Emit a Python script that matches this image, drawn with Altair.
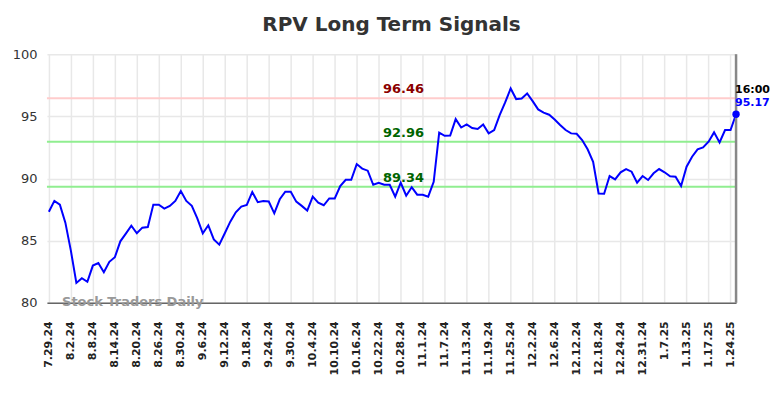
import altair as alt
import pandas as pd

# ---- data ----
values = [
    87.33, 88.20, 87.90, 86.45, 84.20, 81.60, 81.98, 81.70, 83.00, 83.20,
    82.47, 83.30, 83.67, 84.95, 85.57, 86.20, 85.60, 86.05, 86.10, 87.90,
    87.90, 87.58, 87.80, 88.20, 89.00, 88.20, 87.80, 86.80, 85.60, 86.24,
    85.10, 84.68, 85.60, 86.53, 87.28, 87.74, 87.87, 88.92, 88.10, 88.20,
    88.15, 87.20, 88.33, 88.94, 88.94, 88.14, 87.80, 87.42, 88.54, 88.06,
    87.85, 88.40, 88.40, 89.40, 89.90, 89.90, 91.16, 90.80, 90.63, 89.50,
    89.66, 89.50, 89.50, 88.54, 89.66, 88.62, 89.30, 88.70, 88.70, 88.54,
    89.74, 93.70, 93.44, 93.45, 94.78, 94.10, 94.35, 94.06, 93.98, 94.35,
    93.63, 93.90, 95.10, 96.12, 97.24, 96.39, 96.44, 96.84, 96.22, 95.56,
    95.30, 95.13, 94.75, 94.30, 93.90, 93.63, 93.60, 93.10, 92.35, 91.35,
    88.80, 88.78, 90.20, 89.93, 90.50, 90.76, 90.55, 89.66, 90.20, 89.88,
    90.42, 90.76, 90.50, 90.18, 90.15, 89.40, 90.95, 91.75, 92.34, 92.50,
    92.96, 93.71, 92.90, 93.90, 93.90, 95.17,
]

tick_labels = [
    "7.29.24", "8.2.24", "8.8.24", "8.14.24", "8.20.24", "8.26.24", "8.30.24",
    "9.6.24", "9.12.24", "9.18.24", "9.24.24", "9.30.24", "10.4.24", "10.10.24",
    "10.16.24", "10.22.24", "10.28.24", "11.1.24", "11.7.24", "11.13.24",
    "11.19.24", "11.25.24", "12.2.24", "12.6.24", "12.12.24", "12.18.24",
    "12.24.24", "12.31.24", "1.7.25", "1.13.25", "1.17.25", "1.24.25",
]
tick_step = 4

levels = [96.46, 92.96, 89.34]
level_labels = ["96.46", "92.96", "89.34"]
level_line_colors = ["#ffcccc", "#90ee90", "#90ee90"]
level_text_colors = ["#8b0000", "#006400", "#006400"]
level_label_index = 64.5

last_time = "16:00"
last_label = "95.17"
watermark = "Stock Traders Daily"
watermark_index = 2.4
y_ticks = [80, 85, 90, 95, 100]

# ---- build ----
n = len(values)
df = pd.DataFrame({"i": list(range(n)), "v": values})
last_df = pd.DataFrame({"i": [n - 1], "v": [values[-1]], "t": [last_time], "l": [last_label]})
lev_df = pd.DataFrame({"y": levels, "lab": level_labels, "lc": level_line_colors,
                       "tc": level_text_colors, "i": [level_label_index] * 3})
wm_df = pd.DataFrame({"i": [watermark_index], "y": [y_ticks[0]], "t": [watermark]})

tick_pos = [k * tick_step for k in range(len(tick_labels))]
label_expr = "[" + ",".join("'" + t + "'" for t in tick_labels) + "][round(datum.value/" + str(tick_step) + ")]"

W, H = 690, 249
FONT = "DejaVu Sans"

xscale = alt.Scale(domain=[-0.35, n - 1], nice=False, zero=False)
yscale = alt.Scale(domain=[80, 100], nice=False, zero=False)

xaxis = alt.Axis(values=tick_pos, labelExpr=label_expr, labelAngle=270, title=None,
                 grid=True, gridColor="#e8e8e8", gridWidth=1.5, ticks=False,
                 domain=True, domainColor="#666666", domainWidth=1.5,
                 labelFont=FONT, labelFontSize=11, labelFontWeight="bold",
                 labelColor="#222222", labelPadding=18, labelOverlap=False,
                 labelSeparation=0, labelBound=False, labelFlush=False)
yaxis = alt.Axis(values=y_ticks, title=None, grid=True, gridColor="#e8e8e8", gridWidth=1.5,
                 ticks=False, domain=False, labelFont=FONT, labelFontSize=13,
                 labelColor="#333333", labelPadding=10)


def X():
    return alt.X("i:Q", scale=xscale, axis=xaxis)


def Y(f):
    return alt.Y(f, scale=yscale, axis=yaxis)


line = alt.Chart(df).mark_line(color="#0000ff", strokeWidth=2).encode(x=X(), y=Y("v:Q"))

level_rules = alt.Chart(lev_df).mark_rule(strokeWidth=2).encode(
    y=Y("y:Q"), color=alt.Color("lc:N", scale=None))

level_text = alt.Chart(lev_df).mark_text(font=FONT, fontSize=13, fontWeight="bold",
                                         dy=-9, align="center").encode(
    x=X(), y=Y("y:Q"), text="lab:N", color=alt.Color("tc:N", scale=None))

vrule = alt.Chart(last_df).mark_rule(color="#888888", strokeWidth=2.5).encode(
    x=X(), y=alt.datum(80), y2=alt.datum(100))

watermark_text = alt.Chart(wm_df).mark_text(font=FONT, fontSize=13, fontWeight="bold",
                                            color="#999999", align="left", dy=-1).encode(
    x=X(), y=Y("y:Q"), text="t:N")

point = alt.Chart(last_df).mark_point(filled=True, size=55, color="#0000ff", opacity=1).encode(
    x=X(), y=Y("v:Q"))

time_text = alt.Chart(last_df).mark_text(font=FONT, fontSize=11, fontWeight="bold",
                                         color="#000000", align="left", dx=-1, dy=-24).encode(
    x=X(), y=Y("v:Q"), text="t:N")

val_text = alt.Chart(last_df).mark_text(font=FONT, fontSize=11, fontWeight="bold",
                                        color="#0000ff", align="left", dx=-1, dy=-11).encode(
    x=X(), y=Y("v:Q"), text="l:N")

chart = alt.layer(
    level_rules, watermark_text, line, vrule, level_text, point, time_text, val_text
).properties(
    width=W, height=H,
    title=alt.TitleParams("RPV Long Term Signals", font=FONT, fontSize=20, fontWeight="bold",
                          color="#333333", offset=13, anchor="middle"),
    autosize=alt.AutoSizeParams(type="none"),
    padding={"left": 39, "top": 46, "right": 40, "bottom": 80},
).configure_view(strokeWidth=0).configure_axis(labelOverlap=False)

chart.save("out.html", embed_options={"renderer": "svg", "actions": False})
